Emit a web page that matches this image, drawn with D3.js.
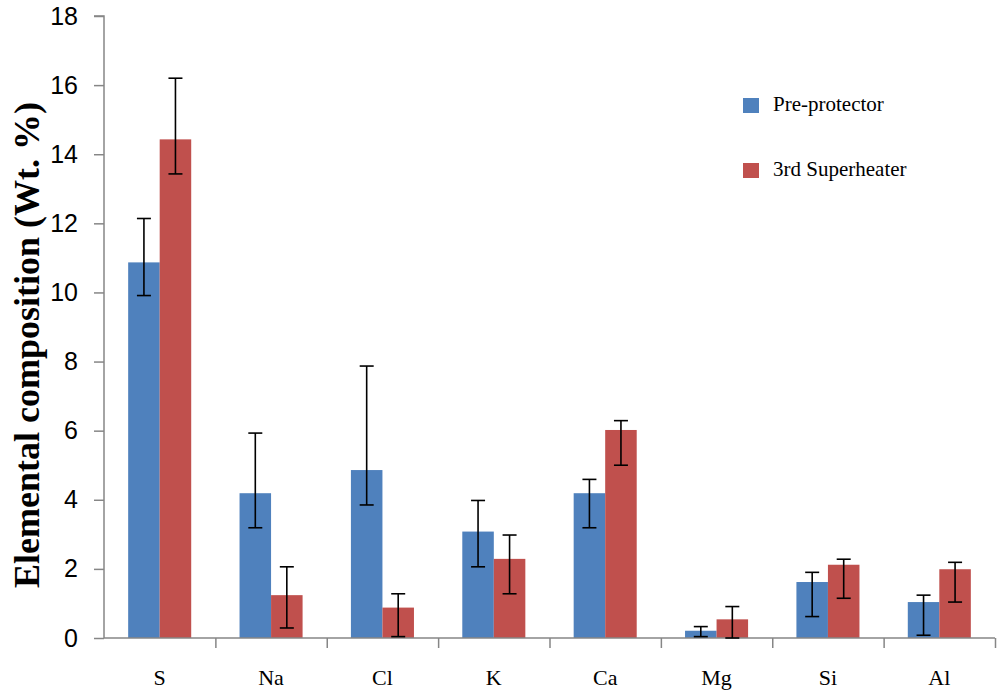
<!DOCTYPE html>
<html><head><meta charset="utf-8">
<script src="https://cdn.jsdelivr.net/npm/d3@7"></script>
<style>body{margin:0;background:#fff}svg{display:block}</style>
</head><body>
<svg id="c" width="1000" height="692"></svg>
<script>
const categories = ["S","Na","Cl","K","Ca","Mg","Si","Al"];
const seriesNames = ["Pre-protector","3rd Superheater"];
const preValues  = [10.87, 4.19, 4.86, 3.08, 4.19, 0.21, 1.62, 1.04];
const preErrHigh = [12.14, 5.93, 7.87, 3.98, 4.59, 0.33, 1.90, 1.24];
const preErrLow  = [9.91, 3.19, 3.85, 2.06, 3.19, 0.04, 0.62, 0.08];
const supValues  = [14.43, 1.24, 0.88, 2.29, 6.02, 0.54, 2.12, 1.99];
const supErrHigh = [16.20, 2.06, 1.28, 2.98, 6.29, 0.91, 2.28, 2.19];
const supErrLow  = [13.43, 0.29, 0.04, 1.28, 5.00, 0.00, 1.15, 1.04];
const yTicks = [0,2,4,6,8,10,12,14,16,18];
const colors = ["#4F81BD","#C0504D"];

(function(){
const svg = d3.select("#c");
const mLeft = 104, mRight = 995, mTop = 16, mBottom = 638;
const axisColor = "#868686";

const y = d3.scaleLinear().domain([0,18]).range([mBottom, mTop]);
const x0 = d3.scaleBand().domain(categories).range([mLeft, mRight]).paddingInner(0.434).paddingOuter(0.217);
const x1 = d3.scaleBand().domain([0,1]).range([0, x0.bandwidth()]);

const series = [
  {vals: preValues, hi: preErrHigh, lo: preErrLow},
  {vals: supValues, hi: supErrHigh, lo: supErrLow}
];

series.forEach((s, si) => {
  svg.append("g").selectAll("rect").data(categories).join("rect")
    .attr("x", (d) => x0(d) + x1(si))
    .attr("y", (d,i) => y(s.vals[i]))
    .attr("width", x1.bandwidth())
    .attr("height", (d,i) => y(0) - y(s.vals[i]))
    .attr("fill", colors[si]);
});

const yAxis = d3.axisLeft(y).tickValues(yTicks).tickSize(10).tickPadding(16);
const gy = svg.append("g").attr("transform", `translate(${mLeft},0)`).call(yAxis);
gy.select(".domain").attr("stroke", axisColor).attr("stroke-width", 1.5).attr("d", `M-10,${mTop}H0V${mBottom}`);
gy.selectAll(".tick line").attr("stroke", axisColor).attr("stroke-width", 1.5);
gy.selectAll(".tick text").attr("fill", "#000").style("font-family", "'Liberation Sans', Arial, sans-serif").style("font-size", "25px");

const xBound = d3.scaleLinear().domain([0, categories.length]).range([mLeft, mRight]);
const xAxis = d3.axisBottom(xBound).tickValues(d3.range(0, categories.length + 1)).tickSize(10).tickFormat("");
const gx = svg.append("g").attr("transform", `translate(0,${mBottom})`).call(xAxis);
gx.select(".domain").attr("stroke", axisColor).attr("stroke-width", 1.5).attr("d", `M${mLeft},0H${mRight}`);
gx.selectAll(".tick line").attr("stroke", axisColor).attr("stroke-width", 1.5);
gx.selectAll(".tick").filter((d) => d === 0).select("line").remove();

svg.append("g").selectAll("text").data(categories).join("text")
  .attr("x", (d) => x0(d) + x0.bandwidth() / 2)
  .attr("y", 685)
  .attr("text-anchor", "middle")
  .style("font-family", "'Liberation Serif', 'Times New Roman', serif")
  .style("font-size", "22px")
  .text((d) => d);

series.forEach((s, si) => {
  const g = svg.append("g").attr("stroke", "#000").attr("stroke-width", 1.6);
  categories.forEach((c, i) => {
    const cx = x0(c) + x1(si) + x1.bandwidth() / 2;
    g.append("line").attr("x1", cx).attr("x2", cx).attr("y1", y(s.hi[i])).attr("y2", y(s.lo[i]));
    g.append("line").attr("x1", cx - 7).attr("x2", cx + 7).attr("y1", y(s.hi[i])).attr("y2", y(s.hi[i]));
    g.append("line").attr("x1", cx - 7).attr("x2", cx + 7).attr("y1", y(s.lo[i])).attr("y2", y(s.lo[i]));
  });
});

svg.append("text")
  .attr("transform", `translate(39,345) rotate(-90)`)
  .attr("text-anchor", "middle")
  .style("font-family", "'Liberation Serif', 'Times New Roman', serif")
  .style("font-weight", "bold")
  .style("font-size", "36px")
  .text("Elemental composition (Wt. %)");

const lg = svg.append("g");
seriesNames.forEach((n, i) => {
  const ly = 98 + i * 65;
  lg.append("rect").attr("x", 743).attr("y", ly).attr("width", 16).attr("height", 15).attr("fill", colors[i]);
  lg.append("text").attr("x", 773).attr("y", ly + 13)
    .style("font-family", "'Liberation Serif', 'Times New Roman', serif")
    .style("font-size", "21px")
    .text(n);
});
})();
</script>
</body></html>
